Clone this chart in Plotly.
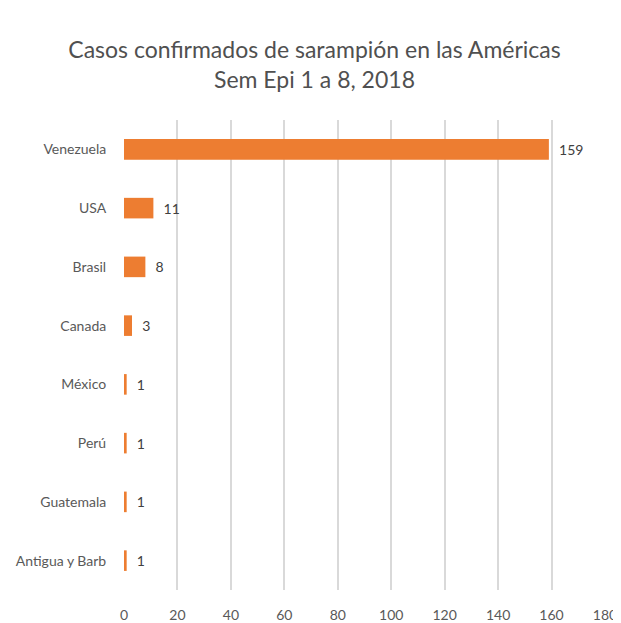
import plotly.graph_objects as go

countries = ["Venezuela", "USA", "Brasil", "Canada", "México", "Perú", "Guatemala", "Antigua y Barb"]
cases = [159, 11, 8, 3, 1, 1, 1, 1]
x_ticks = [0, 20, 40, 60, 80, 100, 120, 140, 160, 180]

font_family = "Lato, 'Open Sans', sans-serif"
grey = "#595959"

fig = go.Figure(go.Bar(
    x=cases,
    y=countries,
    orientation="h",
    marker=dict(color="#ED7D31", line=dict(width=0)),
    texttemplate="  %{x}",
    textposition="outside",
    textfont=dict(family=font_family, size=14, color="#404040"),
    cliponaxis=False,
))

fig.update_layout(
    width=613, height=615,
    margin=dict(l=116, r=16, t=112, b=33, autoexpand=False),
    paper_bgcolor="white", plot_bgcolor="white",
    bargap=0.65,
    showlegend=False,
    title=dict(
        text="Casos confirmados de sarampión en las Américas<br>Sem Epi 1 a 8, 2018",
        x=0.5, xanchor="center", y=0.919, yanchor="middle",
        font=dict(family=font_family, size=23, color="#505050"),
    ),
    xaxis=dict(
        range=[0, 180], tickvals=x_ticks, automargin=False,
        showgrid=True, gridcolor="#D9D9D9", gridwidth=1.5,
        zeroline=False, showline=False,
        ticks="outside", ticklen=12, tickcolor="rgba(0,0,0,0)",
        tickfont=dict(family=font_family, size=14, color=grey),
    ),
    yaxis=dict(
        categoryorder="array", categoryarray=countries[::-1], automargin=False,
        showgrid=False, zeroline=False, showline=False,
        ticks="outside", ticklen=14, tickcolor="rgba(0,0,0,0)",
        tickfont=dict(family=font_family, size=14, color=grey),
    ),
)

fig.write_html("out.html")
